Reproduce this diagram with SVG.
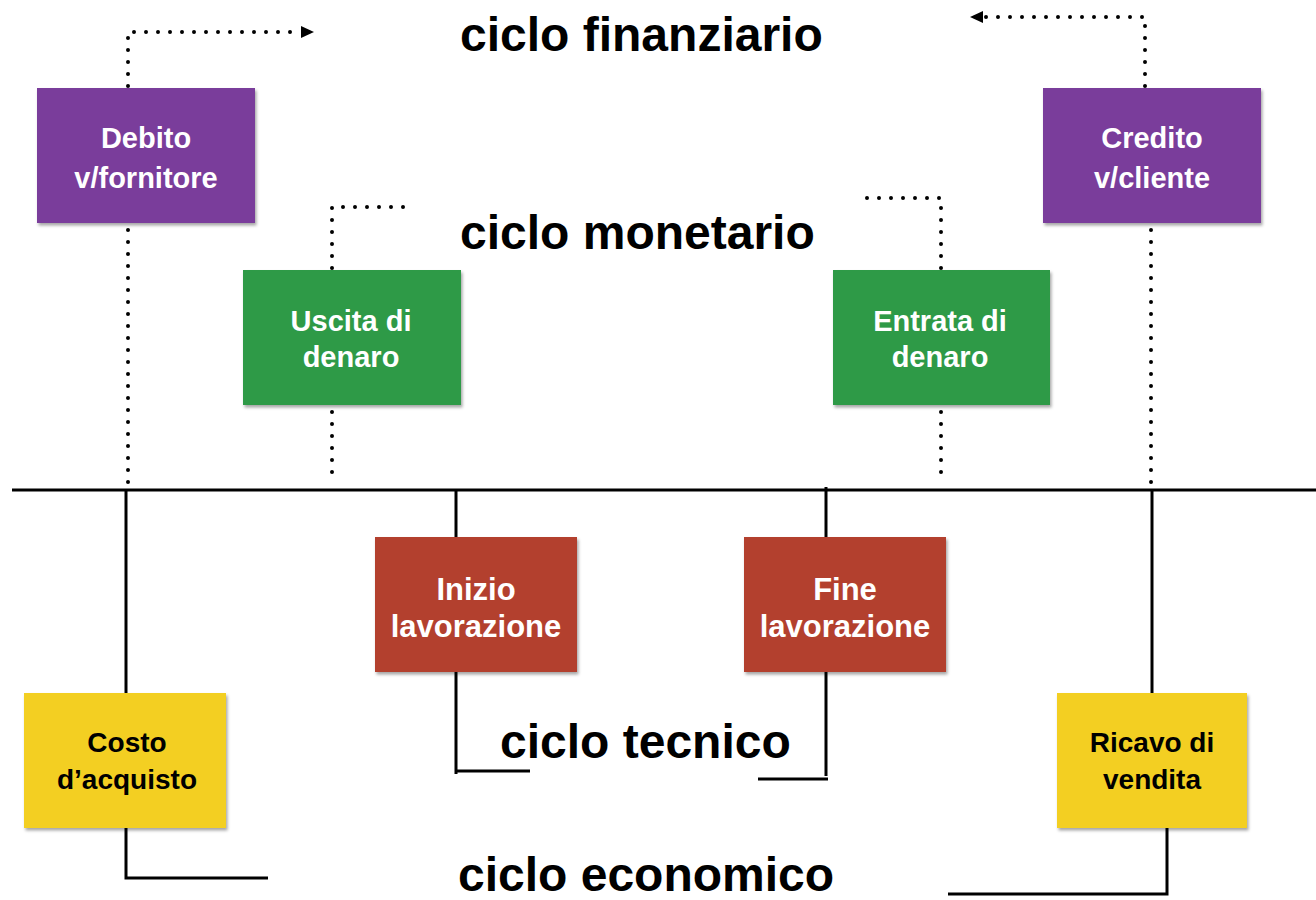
<svg xmlns="http://www.w3.org/2000/svg" width="1316" height="900" viewBox="0 0 1316 900">
<style>
.title{font-family:"Liberation Sans",Arial,sans-serif;font-weight:bold;font-size:48px;fill:#000}
.lbl{font-family:"Liberation Sans",Arial,sans-serif;font-weight:bold;font-size:29px;text-anchor:middle;fill:#fff}
.lblr{font-family:"Liberation Sans",Arial,sans-serif;font-weight:bold;font-size:31px;text-anchor:middle;fill:#fff}
.lbly{font-family:"Liberation Sans",Arial,sans-serif;font-weight:bold;font-size:28px;text-anchor:middle;fill:#000}
.purple{fill:#7a3e9b}
.green{fill:#2e9a46}
.red{fill:#b3412f}
.yellow{fill:#f3cf22}
.box{filter:url(#sh)}
.dot{fill:none;stroke:#000;stroke-width:4;stroke-linecap:round;stroke-dasharray:0 12}
.solid{fill:none;stroke:#000;stroke-width:3}
</style>
<defs>
<filter id="sh" x="-5%" y="-5%" width="115%" height="120%">
<feDropShadow dx="1.5" dy="2.5" stdDeviation="1.5" flood-color="#000" flood-opacity="0.35"/>
</filter>
</defs>
<rect width="1316" height="900" fill="#fff"/>

<g id="titles">
<text class="title" x="460" y="51">ciclo finanziario</text>
<text class="title" x="460" y="249">ciclo monetario</text>
<text class="title" x="500" y="758">ciclo tecnico</text>
<text class="title" x="458" y="891">ciclo economico</text>
</g>

<g id="connectors">
<line class="solid" x1="12" y1="490" x2="1316" y2="490"/>
<path class="dot" d="M128,86 V32 H302"/>
<path d="M301,26 L314,32 L301,38 z" fill="#000"/>
<path class="dot" d="M1145,86 V17 H982"/>
<path d="M983,11 L970,17 L983,23 z" fill="#000"/>
<path class="dot" d="M128,230 V488"/>
<path class="dot" d="M1151,230 V488"/>
<path class="dot" d="M332,268 V207 H415"/>
<path class="dot" d="M332,412 V484"/>
<path class="dot" d="M941,268 V198 H855"/>
<path class="dot" d="M941,412 V484"/>
<line class="solid" x1="126" y1="490" x2="126" y2="693"/>
<path class="solid" d="M126,828 V878 H268"/>
<line class="solid" x1="1152" y1="490" x2="1152" y2="693"/>
<path class="solid" d="M1167,828 V894 H948"/>
<line class="solid" x1="456" y1="490" x2="456" y2="537"/>
<path class="solid" d="M456,672 V774 M456,771 H530"/>
<line class="solid" x1="826" y1="487" x2="826" y2="537"/>
<path class="solid" d="M826,672 V776 M828,779 H758"/>
</g>

<g id="debito">
<rect class="box purple" x="37" y="88" width="218" height="135"/>
<text class="lbl" x="146" y="148">Debito</text>
<text class="lbl" x="146" y="188">v/fornitore</text>
</g>
<g id="credito">
<rect class="box purple" x="1043" y="88" width="218" height="135"/>
<text class="lbl" x="1152" y="148">Credito</text>
<text class="lbl" x="1152" y="188">v/cliente</text>
</g>
<g id="uscita">
<rect class="box green" x="243" y="270" width="218" height="135"/>
<text class="lbl" x="351" y="331">Uscita di</text>
<text class="lbl" x="351" y="367">denaro</text>
</g>
<g id="entrata">
<rect class="box green" x="833" y="270" width="217" height="135"/>
<text class="lbl" x="940" y="331">Entrata di</text>
<text class="lbl" x="940" y="367">denaro</text>
</g>
<g id="inizio">
<rect class="box red" x="375" y="537" width="202" height="135"/>
<text class="lblr" x="476" y="600">Inizio</text>
<text class="lblr" x="476" y="637">lavorazione</text>
</g>
<g id="fine">
<rect class="box red" x="744" y="537" width="202" height="135"/>
<text class="lblr" x="845" y="600">Fine</text>
<text class="lblr" x="845" y="637">lavorazione</text>
</g>
<g id="costo">
<rect class="box yellow" x="24" y="693" width="202" height="135"/>
<text class="lbly" x="127" y="752">Costo</text>
<text class="lbly" x="127" y="789">d’acquisto</text>
</g>
<g id="ricavo">
<rect class="box yellow" x="1057" y="693" width="190" height="135"/>
<text class="lbly" x="1152" y="752">Ricavo di</text>
<text class="lbly" x="1152" y="789">vendita</text>
</g>
</svg>
